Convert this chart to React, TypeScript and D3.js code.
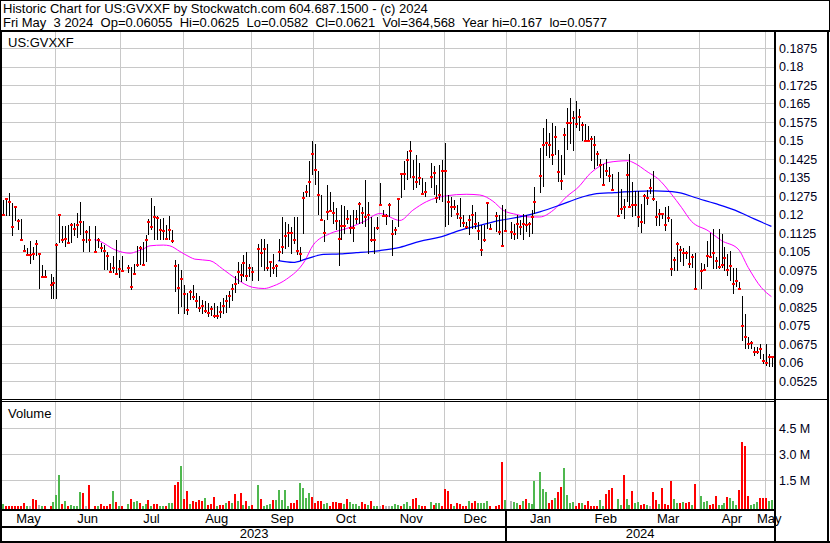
import React from "react";
import * as d3 from "d3";

const W = 830;
const H = 543;

// One slot per weekday from Mon 2023-05-08 to Fri 2024-05-03; null = US market holiday
const START = [2023, 4, 8];

const high: (number | null)[] = [
  // May 2023
  0.1259, 0.1268, 0.1286, 0.1248, 0.1231, 0.118, 0.118, 0.1077, 0.1064, 0.1091, 0.107, 0.1095, 0.104, 0.0995, 0.0975, null, 0.0959, 0.0948,
  // Jun
  0.1084, 0.12, 0.1152, 0.1152, 0.1159, 0.1166, 0.1166, 0.1207, 0.125, 0.1173, 0.1139, 0.1152, null, 0.1152, 0.1105, 0.1084, 0.1077, 0.105, 0.1002, 0.103,
  0.1095, 0.1016,
  // Jul
  0.103, null, 0.0995, 0.0989, 0.0999, 0.1073, 0.1073, 0.1087, 0.1118, 0.118, 0.1268, 0.1234, 0.1193, 0.118, 0.1186, 0.1159, 0.1193, 0.1139, 0.1016,
  0.0999, 0.0975,
  // Aug
  0.0914, 0.088, 0.0893, 0.0914, 0.088, 0.087, 0.0855, 0.085, 0.084, 0.083, 0.084, 0.083, 0.0845, 0.086, 0.0875, 0.089, 0.092, 0.095, 0.1006, 0.0999,
  0.1034, 0.1047, 0.0999, 0.0986,
  // Sep
  null, 0.1081, 0.1102, 0.1102, 0.1081, 0.1006, 0.104, 0.0999, 0.1102, 0.119, 0.117, 0.1163, 0.115, 0.119, 0.119, 0.1068, 0.1293, 0.132, 0.1416, 0.1497,
  // Oct
  0.1484, 0.1375, 0.1279, 0.1177, 0.132, 0.1293, 0.1252, 0.1225, 0.1177, 0.1238, 0.1234, 0.1218, 0.1197, 0.1218, 0.1218, 0.1252, 0.1231, 0.1341, 0.1252,
  0.119, 0.115, 0.119,
  // Nov
  0.1327, 0.1217, 0.1204, 0.1245, 0.1176, 0.1149, 0.1265, 0.1367, 0.1415, 0.1456, 0.1497, 0.1422, 0.1443, 0.1408, 0.1347, 0.133, null, 0.1408, 0.1395,
  0.132, 0.1402, 0.1422,
  // Dec
  0.149, 0.1279, 0.1272, 0.1258, 0.1238, 0.1265, 0.1197, 0.117, 0.1197, 0.1238, 0.1211, 0.117, 0.1156, 0.1156, 0.1252, 0.1163, null, 0.1211, 0.1197,
  0.1238, 0.1224,
  // Jan 2024
  null, 0.117, 0.1163, 0.1197, 0.1176, 0.1204, 0.1197, 0.117, 0.1217, 0.1313, null, 0.147, 0.1552, 0.1586, 0.1531, 0.1572, 0.1558, 0.1463, 0.1443,
  0.1552, 0.1633, 0.1674, 0.162,
  // Feb
  0.1661, 0.1627, 0.1573, 0.1566, 0.156, 0.1519, 0.1519, 0.1458, 0.1425, 0.1404, 0.1425, 0.1391, 0.1364, null, 0.1371, 0.1303, 0.1262, 0.1411, 0.1445,
  0.133, 0.1296,
  // Mar
  0.1296, 0.1242, 0.1283, 0.13, 0.1344, 0.1377, 0.1256, 0.1222, 0.1208, 0.1229, 0.1235, 0.1181, 0.1026, 0.1087, 0.1073, 0.1066, 0.1053, 0.1073, 0.1039,
  0.1042, null,
  // Apr
  0.1005, 0.0999, 0.1094, 0.1127, 0.1141, 0.1026, 0.1141, 0.1121, 0.1067, 0.1039, 0.1053, 0.0985, 0.0985, 0.0925, 0.0871, 0.0796, 0.0702, 0.0688,
  0.0661, 0.0661, 0.0675, 0.0634,
  // May
  0.0675, 0.0634, 0.0625,
];

const low: (number | null)[] = [
  0.1193, 0.1193, 0.1193, 0.1111, 0.1173, 0.1139, 0.1098, 0.105, 0.103, 0.1, 0.1016, 0.103, 0.09, 0.0948, 0.0945, null, 0.0859, 0.0859,
  0.0859, 0.1084, 0.1084, 0.107, 0.1084, 0.1084, 0.1111, 0.1104, 0.1118, 0.105, 0.1084, 0.105, null, 0.1048, 0.1064, 0.105, 0.0975, 0.0975, 0.0961, 0.0961,
  0.0954, 0.0941,
  0.0968, null, 0.0961, 0.0893, 0.0954, 0.0989, 0.0995, 0.0995, 0.1009, 0.1118, 0.1139, 0.1098, 0.1098, 0.1098, 0.1098, 0.1098, 0.1098, 0.1084, 0.0886,
  0.0798, 0.0825,
  0.0798, 0.0791, 0.0852, 0.0855, 0.082, 0.0805, 0.0795, 0.08, 0.0785, 0.079, 0.078, 0.0775, 0.078, 0.0795, 0.08, 0.082, 0.085, 0.088, 0.092, 0.0925,
  0.0945, 0.0931, 0.0945, 0.0931,
  null, 0.0931, 0.0986, 0.0972, 0.0972, 0.0945, 0.0959, 0.0945, 0.1013, 0.104, 0.1061, 0.1068, 0.104, 0.1081, 0.1034, 0.1013, 0.1122, 0.1272, 0.1272, 0.1361,
  0.132, 0.1197, 0.1177, 0.1088, 0.1177, 0.1211, 0.1163, 0.1136, 0.0993, 0.1095, 0.1122, 0.1163, 0.1122, 0.1088, 0.1163, 0.1163, 0.1163, 0.115, 0.104,
  0.1088, 0.104, 0.1136,
  0.1238, 0.119, 0.1156, 0.119, 0.1033, 0.1115, 0.1149, 0.1265, 0.1299, 0.134, 0.1347, 0.1299, 0.1306, 0.132, 0.1279, 0.127, null, 0.1306, 0.1279,
  0.1245, 0.1258, 0.1252,
  0.1149, 0.1156, 0.119, 0.1217, 0.1183, 0.1149, 0.1149, 0.1142, 0.1115, 0.1142, 0.1142, 0.1095, 0.1033, 0.1088, 0.1142, 0.1136, null, 0.1129, 0.1115,
  0.1074, 0.1129,
  null, 0.1102, 0.1095, 0.1102, 0.1115, 0.1095, 0.1129, 0.1108, 0.1122, 0.1204, null, 0.1286, 0.1313, 0.1436, 0.1429, 0.1402, 0.1443, 0.1333, 0.1299,
  0.1361, 0.1463, 0.1484, 0.1456,
  0.1552, 0.1539, 0.1499, 0.1492, 0.1492, 0.1418, 0.1384, 0.1398, 0.135, 0.1316, 0.1357, 0.133, 0.1296, null, 0.1188, 0.1202, 0.1181, 0.1249, 0.1229,
  0.1188, 0.1195,
  0.1148, 0.1127, 0.1161, 0.124, 0.1283, 0.1256, 0.1154, 0.1154, 0.1181, 0.1134, 0.1168, 0.0952, 0.0972, 0.0972, 0.1006, 0.0992, 0.1019, 0.0985, 0.0985,
  0.0898, null,
  0.0898, 0.0972, 0.0986, 0.1026, 0.0979, 0.0979, 0.0979, 0.0985, 0.0972, 0.0952, 0.0932, 0.0878, 0.0905, 0.0898, 0.0688, 0.0654, 0.0654, 0.0654,
  0.0627, 0.0634, 0.0614, 0.0594,
  0.0587, 0.058, 0.0582,
];

const close: (number | null)[] = [
  0.1197, 0.1261, 0.125, 0.1148, 0.123, 0.1173, 0.1098, 0.1054, 0.1034, 0.1036, 0.1039, 0.1081, 0.1038, 0.0948, 0.0948, null, 0.0914, 0.0923,
  0.1077, 0.1197, 0.1098, 0.1102, 0.1084, 0.1159, 0.1141, 0.1159, 0.1169, 0.1098, 0.1129, 0.1098, null, 0.105, 0.1095, 0.1064, 0.1054, 0.1032, 0.0968, 0.0982,
  0.0959, 0.098,
  0.0972, null, 0.0984, 0.0907, 0.0959, 0.0997, 0.1064, 0.0997, 0.1098, 0.1169, 0.1148, 0.1189, 0.1184, 0.1136, 0.1132, 0.1102, 0.1139, 0.1091, 0.0991,
  0.0904, 0.094,
  0.0877, 0.0811, 0.0886, 0.0866, 0.085, 0.082, 0.083, 0.081, 0.08, 0.0815, 0.079, 0.079, 0.0805, 0.083, 0.085, 0.087, 0.09, 0.092, 0.0965, 0.0956,
  0.1002, 0.0949, 0.0982, 0.0965,
  null, 0.1061, 0.1043, 0.1061, 0.0982, 0.1006, 0.0982, 0.0993, 0.105, 0.107, 0.1111, 0.1125, 0.1125, 0.1095, 0.1051, 0.1038, 0.1268, 0.1293, 0.133, 0.1447,
  0.1379, 0.1279, 0.1177, 0.1125, 0.1211, 0.1215, 0.1207, 0.1174, 0.1102, 0.1152, 0.1152, 0.118, 0.1147, 0.1147, 0.118, 0.1242, 0.1207, 0.119, 0.1197,
  0.1095, 0.1095, 0.1147,
  0.1238, 0.1194, 0.1194, 0.1238, 0.1122, 0.1136, 0.1262, 0.1365, 0.1365, 0.1422, 0.1456, 0.1354, 0.1333, 0.1347, 0.1283, 0.129, null, 0.1354, 0.1367,
  0.1268, 0.1279, 0.1377,
  0.1377, 0.1252, 0.1231, 0.1231, 0.1204, 0.1186, 0.1166, 0.1149, 0.1176, 0.1197, 0.1163, 0.1132, 0.1058, 0.1095, 0.1245, 0.1142, null, 0.1194, 0.1129,
  0.1074, 0.1132,
  null, 0.1129, 0.1122, 0.1163, 0.1149, 0.1163, 0.1156, 0.1163, 0.119, 0.1252, null, 0.1358, 0.1481, 0.149, 0.1483, 0.144, 0.1513, 0.1372, 0.1337,
  0.1522, 0.1572, 0.1569, 0.159,
  0.1565, 0.1596, 0.1564, 0.1499, 0.1499, 0.1508, 0.1483, 0.1445, 0.1402, 0.1321, 0.1377, 0.1357, 0.1299, null, 0.1194, 0.1222, 0.1231, 0.1361, 0.1231,
  0.1239, 0.1239,
  0.1188, 0.1171, 0.1276, 0.1265, 0.1307, 0.1263, 0.1188, 0.1204, 0.1204, 0.1158, 0.1184, 0.0981, 0.1016, 0.108, 0.1057, 0.1042, 0.1044, 0.0999, 0.1026,
  0.09, null,
  0.0972, 0.0976, 0.1033, 0.1029, 0.1042, 0.1012, 0.0989, 0.0996, 0.1023, 0.0976, 0.0992, 0.0918, 0.0931, 0.09, 0.0749, 0.0702, 0.0677, 0.0681,
  0.0641, 0.0641, 0.0654, 0.0607,
  0.0596, 0.0621, 0.0621,
];

// volume in thousands of shares
const volumeK: (number | null)[] = [
  113, 0, 0, 0, 0, 0, 17, 171, 17, 0, 402, 363, 75, 0, 0, null, 17, 229,
  652, 1806, 133, 306, 17, 75, 37, 17, 825, 767, 0, 1229, null, 0, 17, 133, 37, 0, 133, 883,
  267, 17,
  0, null, 133, 421, 267, 306, 210, 37, 113, 363, 0, 133, 133, 0, 0, 0, 190, 210, 1229,
  1383, 2325,
  421, 883, 133, 306, 267, 344, 306, 479, 75, 133, 537, 0, 75, 75, 171, 287, 171, 710, 306, 767,
  75, 306, 0, 94,
  null, 1229, 421, 37, 94, 152, 363, 344, 940, 363, 940, 0, 190, 190, 363, 1344, 1056, 479, 767, 537,
  190, 306, 306, 133, 190, 0, 248, 248, 190, 190, 133, 421, 248, 133, 133, 17, 248, 133, 94,
  306, 0, 17,
  0, 75, 17, 0, 17, 133, 75, 0, 133, 248, 17, 421, 460, 75, 17, 0, null, 248, 75,
  190, 190, 17,
  998, 883, 133, 17, 190, 133, 0, 0, 306, 190, 306, 190, 190, 190, 306, 0, null, 17, 75,
  2556, 363,
  null, 306, 248, 190, 75, 306, 421, 190, 133, 1460, null, 1979, 998, 825, 190, 363, 479, 825, 1113,
  2210, 652, 190, 248,
  0, 190, 190, 75, 306, 0, 0, 0, 363, 0, 710, 940, 1075, null, 402, 75, 1806, 421, 75,
  883, 190,
  229, 75, 133, 75, 0, 806, 363, 133, 1037, 133, 75, 1460, 421, 190, 190, 229, 190, 229, 75,
  1287, null,
  594, 248, 325, 75, 133, 594, 75, 75, 190, 537, 460, 325, 75, 940, 3729, 3498, 594, 75,
  133, 248, 460, 479,
  498, 325, 365,
];

// g = up day, r = down day, n = unchanged, - = holiday (10 slots per chunk)
const volColor = [
  "grrrrrrrgn", "rrngr-rggg", "rgrggggrnr", "-rgrrrrgrg", "r-grggrggr",
  "grrggrggrr", "grrgrrrrgr", "rrgrrgrgrg", "rgrgr-grgg", "grgggggrrr",
  "ggggrrrrgg", "rrrrrgrggg", "grrgrggnrn", "ngggrgggrr", "grr-grggrr",
  "rrgrrrrgrr", "ggggr-rrrg", "-nggrgrggg", "-gggrrgrrg", "gggrrgrrrr",
  "rggrrr-ggr", "ggrggrrgnr", "rgrrrrggrg", "rrgr-gggrr", "rgggrgggrr",
  "rrgggrrrgg",
].join("");

const priceTicks = [
  0.0525, 0.06, 0.0675, 0.075, 0.0825, 0.09, 0.0975, 0.105, 0.1125, 0.12, 0.1275, 0.135, 0.1425, 0.15, 0.1575, 0.165,
  0.1725, 0.18, 0.1875,
];
const volTicksK = [1500, 3000, 4500];
const volTickLabels = ["1.5 M", "3.0 M", "4.5 M"];

// moving averages: [slot index, value]
const maShort: [number, number][] = [
  [30.7, 0.1098], [32.7, 0.1091], [37.7, 0.1057], [42.8, 0.1043], [45, 0.105], [47.2, 0.106], [49.5, 0.1073], [54, 0.1076],
  [56.2, 0.1073], [59.6, 0.105], [63, 0.1027], [64.6, 0.1019], [69.7, 0.1013], [74, 0.0979], [78.7, 0.0938], [84, 0.0905],
  [88, 0.09], [91, 0.091], [95.5, 0.0938], [101.7, 0.1013], [104.4, 0.1075], [110, 0.1122], [115.7, 0.1143], [121.3, 0.117],
  [127, 0.1204], [133.7, 0.1176], [138, 0.1217], [142.6, 0.1252], [149.4, 0.1276], [156, 0.1282], [160.6, 0.1279],
  [165, 0.1254], [168.5, 0.1217], [173, 0.12], [177.4, 0.119], [180.8, 0.119], [185.3, 0.1217], [189.8, 0.1272],
  [194.3, 0.1317], [197, 0.1357], [200.4, 0.1391], [203.8, 0.1411], [210.5, 0.1418], [212.2, 0.1411], [217.3, 0.1371],
  [220.7, 0.1344], [225.1, 0.1283], [228.5, 0.1229], [231.9, 0.1172], [237.5, 0.1134], [242, 0.1094], [247.6, 0.106],
  [251, 0.0985], [255.4, 0.0904], [258.8, 0.0867],
];
const maLong: [number, number][] = [
  [92.7, 0.1013], [97.7, 0.1006], [102.2, 0.102], [107.9, 0.1038], [113.5, 0.104], [119, 0.1045], [124.1, 0.105],
  [127, 0.1054], [133.7, 0.1067], [140.4, 0.1091], [147.1, 0.1108], [153.9, 0.1136], [160.6, 0.1156], [167.3, 0.1176],
  [174.1, 0.119], [180.8, 0.1211], [187.5, 0.1238], [194.3, 0.1268], [199, 0.1283], [206, 0.1289], [212.8, 0.1294],
  [219.5, 0.1296], [224, 0.1294], [228.5, 0.1287], [233, 0.1269], [239.7, 0.1245], [246.5, 0.1218], [253.2, 0.1181],
  [258.8, 0.1152],
];

const monthNames = ["Jan", "Feb", "Mar", "Apr", "May", "Jun", "Jul", "Aug", "Sep", "Oct", "Nov", "Dec"];
const headerLine1 = "Historic Chart for US:GVXXF by Stockwatch.com 604.687.1500 - (c) 2024";
const headerLine2 =
  "Fri May  3 2024  Op=0.06055  Hi=0.0625  Lo=0.0582  Cl=0.0621  Vol=364,568  Year hi=0.167  lo=0.0577";
const symbolLabel = "US:GVXXF";

const FONT = "'Liberation Sans', Arial, Helvetica, sans-serif";
const GRID = "#c8c8c8";
const GREEN = "#4fb84f";
const RED = "#ff0000";

export default function App() {
  const N = high.length;
  const dates: Date[] = [];
  let d = new Date(START[0], START[1], START[2]);
  while (dates.length < N) {
    const wd = d.getDay();
    if (wd !== 0 && wd !== 6) dates.push(new Date(d));
    d = d3.timeDay.offset(d, 1);
  }

  const plotL = 2;
  const plotR = 774;
  const x = d3.scaleLinear().domain([0, N - 1]).range([3, 772]);
  const y = d3.scaleLinear().domain([0.0525, 0.1875]).range([381, 48]);
  const yv = d3.scaleLinear().domain([0, 4500]).range([506.3, 428.3]);

  const px = (i: number) => Math.round(x(i));

  const bounds: number[] = [];
  for (let i = 1; i < N; i++) if (dates[i].getMonth() !== dates[i - 1].getMonth()) bounds.push(i);
  const gridXs = bounds.map((i) => x(i - 0.5));
  const monthEdges = [plotL, ...gridXs, plotR];
  const monthLabels = [dates[0], ...bounds.map((i) => dates[i])].map((dt, k) => ({
    text: monthNames[dt.getMonth()],
    cx: (monthEdges[k] + monthEdges[k + 1]) / 2,
  }));
  const yearIdx = bounds.find((i) => dates[i].getFullYear() !== dates[0].getFullYear()) ?? N;
  const yearX = x(yearIdx - 0.5);

  const maLine = d3
    .line<[number, number]>()
    .x((p) => x(p[0]))
    .y((p) => y(p[1]))
    .curve(d3.curveMonotoneX);

  const priceTop = 31.5;
  const priceBottom = 399.5;
  const volTop = 402;
  const volBase = 509;

  return (
    <svg
      width={W}
      height={H}
      viewBox={`0 0 ${W} ${H}`}
      style={{ position: "absolute", left: 0, top: 0, background: "#fff" }}
      fontFamily={FONT}
    >
      <rect x={0} y={0} width={W} height={H} fill="#fff" />

      <text x={3} y={13} fontSize={13} fill="#000" style={{ whiteSpace: "pre" }}>
        {headerLine1}
      </text>
      <text x={3} y={27} fontSize={13} fill="#000" xmlSpace="preserve" style={{ whiteSpace: "pre" }}>
        {headerLine2}
      </text>

      <g stroke={GRID} strokeWidth={1} shapeRendering="crispEdges">
        {priceTicks.map((t) => (
          <line key={"p" + t} x1={plotL} x2={plotR} y1={Math.round(y(t)) + 0.5} y2={Math.round(y(t)) + 0.5} />
        ))}
        {gridXs.map((gx, k) => (
          <line key={"vx" + k} x1={Math.round(gx) + 0.5} x2={Math.round(gx) + 0.5} y1={priceTop} y2={priceBottom} />
        ))}
        {volTicksK.map((t) => (
          <line key={"v" + t} x1={plotL} x2={plotR} y1={Math.round(yv(t)) + 0.5} y2={Math.round(yv(t)) + 0.5} />
        ))}
        {gridXs.map((gx, k) => (
          <line key={"vv" + k} x1={Math.round(gx) + 0.5} x2={Math.round(gx) + 0.5} y1={volTop} y2={volBase} />
        ))}
      </g>

      <path d={maLine(maShort) ?? ""} fill="none" stroke="#ff00ff" strokeWidth={1} />
      <path d={maLine(maLong) ?? ""} fill="none" stroke="#0000ff" strokeWidth={1.25} />

      <g shapeRendering="crispEdges">
        {high.map((h, i) => {
          const l = low[i];
          const c = close[i];
          if (h == null || l == null || c == null) return null;
          const xi = px(i);
          const y1 = Math.round(y(h));
          const y2 = Math.max(Math.round(y(l)), y1 + 2);
          return (
            <g key={"b" + i}>
              <rect x={xi} y={y1} width={1} height={y2 - y1} fill="#000" />
              <rect x={xi - 1} y={Math.round(y(c)) - 1} width={3} height={2} fill={RED} />
            </g>
          );
        })}
      </g>

      <g shapeRendering="crispEdges">
        {volumeK.map((v, i) => {
          if (v == null) return null;
          const c = volColor[i];
          const fill = c === "g" ? GREEN : c === "r" ? RED : "#b4b4b4";
          const top = Math.round(yv(v));
          return <rect key={"v" + i} x={px(i) - 1} y={top} width={2} height={volBase - top} fill={fill} />;
        })}
      </g>

      <text x={8} y={47} fontSize={13} fill="#000">
        {symbolLabel}
      </text>
      <text x={8} y={418} fontSize={13} fill="#000">
        Volume
      </text>

      {priceTicks.map((t) => (
        <text key={"pl" + t} x={779} y={y(t) + 4.5} fontSize={12.5} fill="#000020">
          {String(t)}
        </text>
      ))}
      {volTicksK.map((t, k) => (
        <text key={"vl" + t} x={779} y={yv(t) + 4.5} fontSize={12.5} fill="#000020">
          {volTickLabels[k]}
        </text>
      ))}

      {monthLabels.map((m, k) => (
        <text key={"m" + k} x={m.cx} y={523} fontSize={13} textAnchor="middle" fill="#000">
          {m.text}
        </text>
      ))}
      <text x={(plotL + yearX) / 2} y={538} fontSize={13} textAnchor="middle" fill="#000">
        {dates[0].getFullYear()}
      </text>
      <text x={(yearX + plotR) / 2} y={538} fontSize={13} textAnchor="middle" fill="#000">
        {dates[N - 1].getFullYear()}
      </text>

      <g fill="#000" shapeRendering="crispEdges">
        <rect x={0} y={0} width={W} height={1} />
        <rect x={0} y={0} width={1} height={31} />
        <rect x={W - 1} y={0} width={1} height={31} />
        <rect x={0} y={29.5} width={W} height={2} />
        <rect x={0} y={31} width={2} height={H - 31} />
        <rect x={W - 3} y={31} width={2} height={H - 31} />
        <rect x={774} y={31} width={2} height={H - 31} />
        <rect x={0} y={399} width={W - 2} height={1} />
        <rect x={0} y={401} width={775} height={1} />
        <rect x={0} y={509} width={775} height={2} />
        <rect x={0} y={526} width={775} height={2} />
        <rect x={0} y={H - 2} width={W} height={2} />
        <rect x={Math.round(yearX) - 1} y={509} width={2} height={H - 509} />
      </g>
    </svg>
  );
}
